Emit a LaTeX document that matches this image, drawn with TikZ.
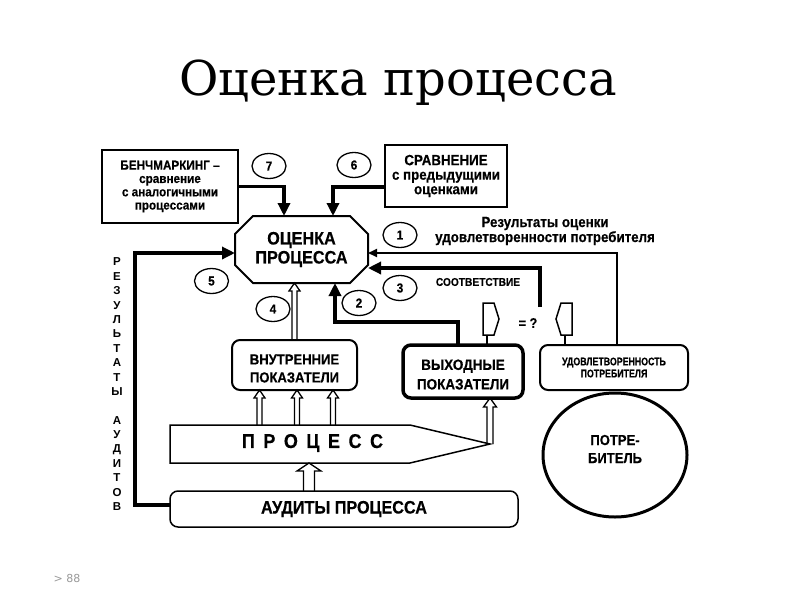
\documentclass[tikz,border=0pt]{standalone}
\usepackage{fontspec}
\setmainfont{Liberation Sans}
\newfontfamily\nar[FakeStretch=0.9,BoldFeatures={FakeBold=0.4}]{Liberation Sans}
\newfontfamily\narr[FakeStretch=0.8,BoldFeatures={FakeBold=0.4}]{Liberation Sans}
\newfontfamily\titlefont{DejaVu Serif}
\newfontfamily\pagefont{DejaVu Sans}
\usetikzlibrary{calc,arrows.meta,shapes.geometric}
\tikzset{
  fnt/.style 2 args={font=\nar\bfseries\fontsize{#1}{#2}\selectfont},
  bx/.style={draw, inner sep=0pt, outer sep=0pt, align=center},
  rbx/.style={bx, rounded corners=8pt},
  txt/.style={inner sep=0pt, align=center},
  num/.style={ellipse, draw, line width=1.3pt, minimum width=34pt, minimum height=25pt, inner sep=0pt, fnt={13}{13}},
  thk/.style={line width=3.5pt, -{Triangle[length=13pt,width=12pt]}},
  thn/.style={line width=1.8pt, -{Triangle[length=9pt,width=8pt]}},
  harrow/.style n args={3}{draw, line width=1.3pt, line join=miter,
    to path={let \p1=(\tikztostart), \p2=(\tikztotarget) in
      (\x1-#1,\y1) -- (\x1-#1,\y2-#3) -- (\x1-#2,\y2-#3) -- (\x1,\y2) --
      (\x1+#2,\y2-#3) -- (\x1+#1,\y2-#3) -- (\x1+#1,\y1)}}
}
\begin{document}
\begin{tikzpicture}[x=1pt,y=-1pt]
\fill[white] (0,0) rectangle (800,600);
\path[use as bounding box] (0,0) rectangle (800,600);

% title
\node[anchor=base, inner sep=0pt, font=\titlefont\fontsize{48}{48}\selectfont] (title) at (398,95) {Оценка процесса};

% top boxes
\node[bx, line width=2.5pt, minimum width=136pt, minimum height=73pt, fnt={13}{13.3}] (bench) at (170,186.5)
  {БЕНЧМАРКИНГ –\\сравнение\\с аналогичными\\процессами};
\node[bx, line width=2.5pt, minimum width=122pt, minimum height=62pt, fnt={14.8}{14.5}] (srav) at (446,176)
  {СРАВНЕНИЕ\\с предыдущими\\оценками};

% octagon
\node[txt, minimum width=133pt, minimum height=67pt, outer sep=0pt, fnt={18}{19}] (oct) at (301.5,249.5) {ОЦЕНКА\\ПРОЦЕССА};
\draw[line width=2pt, line join=miter] ([xshift=18pt]oct.north west) -- ([xshift=-18pt]oct.north east)
  -- ([yshift=-18pt]oct.north east) -- ([yshift=18pt]oct.south east)
  -- ([xshift=-18pt]oct.south east) -- ([xshift=18pt]oct.south west)
  -- ([yshift=18pt]oct.south west) -- ([yshift=-18pt]oct.north west) -- cycle;

% indicator boxes
\node[rbx, line width=2pt, minimum width=125pt, minimum height=50pt] (inner) at (294.5,365) {};
\node[txt, fnt={14.5}{18}] (innerT) at (294.5,368.5) {ВНУТРЕННИЕ\\ПОКАЗАТЕЛИ};
\node[rbx, line width=3.5pt, minimum width=120pt, minimum height=53pt] (outer) at (463,371.5) {};
\node[txt, fnt={15}{19.5}] (outerT) at (463,374.5) {ВЫХОДНЫЕ\\ПОКАЗАТЕЛИ};
\node[rbx, line width=2pt, minimum width=148pt, minimum height=45pt, font=\narr\bfseries\fontsize{11}{12}\selectfont] (sat) at (614,367.5)
  {УДОВЛЕТВОРЕННОСТЬ\\ПОТРЕБИТЕЛЯ};

% process arrow shape
\node[inner sep=0pt, outer sep=0pt, minimum width=240pt, minimum height=38pt] (proc) at (290,444) {};
\coordinate (ptip) at (490,444);
\draw[line width=1.5pt, line join=miter] (proc.north west) -- (proc.north east) -- (ptip) -- (proc.south east) -- (proc.south west) -- cycle;
\node[txt, fnt={20}{20}] (procT) at (312.5,443)
  {П\hspace{8.5pt}Р\hspace{8.5pt}О\hspace{8.5pt}Ц\hspace{8.5pt}Е\hspace{8.5pt}С\hspace{8.5pt}С};

% audits box
\node[rbx, line width=1.5pt, minimum width=348pt, minimum height=36pt, fnt={18}{18}] (audit) at (344,509) {АУДИТЫ ПРОЦЕССА};

% consumer
\node[ellipse, draw, line width=3pt, minimum width=144pt, minimum height=124pt, inner sep=0pt] (cons) at (615,455) {};
\node[txt, fnt={14.5}{18}] (consT) at (615,449) {ПОТРЕ-\\БИТЕЛЬ};

% numbered circles
\node[num] (n7) at (269,166) {7};
\node[num] (n6) at (354,165) {6};
\node[num] (n1) at (400,235) {1};
\node[num] (n3) at (400,288) {3};
\node[num] (n2) at (359,303) {2};
\node[num] (n4) at (273,309) {4};
\node[num] (n5) at (211.5,281) {5};

% labels
\node[txt, fnt={14.8}{15}] (res) at (545,231) {Результаты оценки\\удовлетворенности потребителя};
\node[txt, fnt={11.3}{11.3}] (sootv) at (478,282) {СООТВЕТСТВИЕ};
\node[txt, fnt={14}{14}] (eq) at (528,323) {= ?};

% connectors
\draw[thk] (bench.east) -| ($(oct.north)+(-17.5,0)$);
\draw[thk] ($(srav.west)+(0,11)$) -| ($(oct.north)+(31.5,0)$);
\draw[thn] ($(sat.north)+(3,0)$) |- ($(oct.east)+(0,3.5)$);
\coordinate (c3) at (540,307);
\draw[thk] (c3) |- ($(oct.east)+(0,18.5)$);
\draw[thk] ($(outer.north)+(-5,0)$) -- ++(0,-23) -| ($(oct.south)+(33.5,0)$);
\draw[thk] ($(audit.west)+(0,-4)$) -- ++(-35,0) |- ($(oct.west)+(0,3.5)$);

% hollow arrows
\draw[harrow={2.5pt}{5.5pt}{8pt}] (inner.north) to (oct.south);
\coordinate (pa) at ($(proc.north -| inner.south)+(-35,0)$);
\coordinate (pb) at ($(proc.north -| inner.south)+(2.5,0)$);
\coordinate (pc) at ($(proc.north -| inner.south)+(38.5,0)$);
\draw[harrow={2.5pt}{5.5pt}{8pt}] (pa) to (inner.south);
\draw[harrow={2.5pt}{5.5pt}{8pt}] (pb) to (inner.south);
\draw[harrow={2.5pt}{5.5pt}{8pt}] (pc) to (inner.south);
\draw[harrow={3pt}{6.5pt}{9pt}] (ptip) to (outer.south);
\coordinate (aa) at ($(audit.north)+(-35,0)$);
\draw[harrow={5.5pt}{12pt}{8pt}] (aa) to (proc.south);

% comparison symbols
\coordinate (pl) at ($(outer.north)+(24,0)$);
\draw[line width=1.5pt] (pl) -- ++(0,-10) coordinate (plt);
\draw[line width=1.5pt, line join=miter] (483,303) -- (494,303) -- (499,319) -- (494,335) -- (483,335) -- cycle;
\coordinate (pr) at ($(sat.north)+(-49,0)$);
\draw[line width=1.5pt] (pr) -- ++(0,-10) coordinate (prt);
\draw[line width=1.5pt, line join=miter] (572,303) -- (561,303) -- (556,319) -- (561,335) -- (572,335) -- cycle;

% vertical text
\foreach \c [count=\i from 0] in {Р,Е,З,У,Л,Ь,Т,А,Т,Ы}
  \node[txt, font=\bfseries\fontsize{11.5}{11.5}\selectfont] (v\i) at (117,{262+14.4*\i}) {\c};
\foreach \c [count=\i from 11] in {А,У,Д,И,Т,О,В}
  \node[txt, font=\bfseries\fontsize{11.5}{11.5}\selectfont] (v\i) at (117,{262+14.4*\i}) {\c};

% page number
\node[txt, text=black!40, font=\pagefont\fontsize{11}{11}\selectfont] (pg) at (67,578) {> 88};
\end{tikzpicture}
\end{document}
